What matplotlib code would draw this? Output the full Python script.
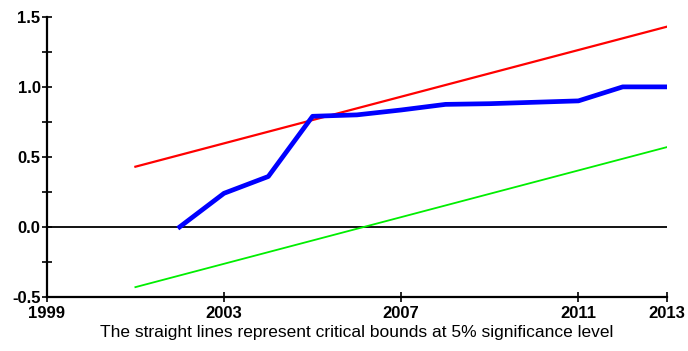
import matplotlib.pyplot as plt
from matplotlib.ticker import FormatStrFormatter

plt.rcParams['font.family'] = ['Liberation Sans', 'DejaVu Sans']

# CUSUM of squares and 5% bounds
years = [2002, 2003, 2004, 2005, 2006, 2007, 2008, 2009, 2010, 2011, 2012, 2013]
cusumsq = [0.0, 0.24, 0.36, 0.79, 0.80, 0.835, 0.875, 0.88, 0.89, 0.90, 1.0, 1.0]
bound_years = [2001, 2013]
upper = [0.43, 1.43]
lower = [-0.43, 0.57]
xticks = [1999, 2003, 2007, 2011, 2013]
yticks = [-0.5, 0.0, 0.5, 1.0, 1.5]
yminor = [-0.25, 0.25, 0.75, 1.25]

fig = plt.figure(figsize=(6.88, 3.51), dpi=100)
ax = fig.add_axes([0.068, 0.154, 0.9015, 0.798])

ax.axhline(0, color="black", lw=1.3, zorder=1)
ax.plot(bound_years, upper, color="#ff0000", lw=1.6)
ax.plot(bound_years, lower, color="#00ee00", lw=1.3)
ax.plot(years, cusumsq, color="#0000ff", lw=3.4)

ax.set_xlim(1999, 2013)
ax.set_ylim(-0.5, 1.5)
ax.set_xticks(xticks)
ax.set_yticks(yticks)
ax.set_yticks(yminor, minor=True)
ax.yaxis.set_major_formatter(FormatStrFormatter("%.1f"))

for s in ["top", "right"]:
    ax.spines[s].set_visible(False)
for s in ["left", "bottom"]:
    ax.spines[s].set_linewidth(1.6)

ax.tick_params(direction="inout", length=7, width=1.2, labelsize=12, pad=1)
ax.tick_params(axis="x", pad=3)
ax.tick_params(which="minor", direction="inout", length=7, width=1.2)
for lab in ax.get_xticklabels() + ax.get_yticklabels():
    lab.set_fontweight("bold")

ax.set_xlabel("The straight lines represent critical bounds at 5% significance level",
              fontsize=12.5, labelpad=3)

fig.savefig("out.png", dpi=100)
